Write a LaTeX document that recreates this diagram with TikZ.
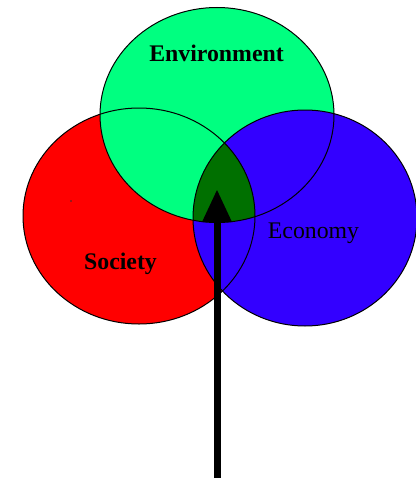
\documentclass[tikz,border=0pt]{standalone}
\usepackage{fontspec}
\setmainfont{Liberation Serif}
\usepackage{tikz}
\usetikzlibrary{
    arrows.meta
}
\definecolor{envgreen}{RGB}{0,255,128}
\definecolor{socred}{RGB}{255,0,0}
\definecolor{ecoblue}{RGB}{51,0,255}
\definecolor{coregreen}{RGB}{0,112,0}
\newcommand{\envshape}{(217,115) ellipse [x radius=117, y radius=107.5]}
\newcommand{\socshape}{(139,216) ellipse [x radius=116, y radius=108]}
\newcommand{\ecoshape}{(305,218) ellipse [x radius=112, y radius=108]}

\begin{document}
\begin{tikzpicture}[x=0.75pt,y=-0.75pt,>=Triangle]
    \tikzstyle{setname}=[anchor=base, inner sep=0pt, font=\fontsize{17.85}{20}\selectfont]
    \tikzstyle{rim}=[draw=black, line width=0.75pt]
    \useasboundingbox (0,0) rectangle (415,478);

	\fill [socred] \socshape;
	\fill [envgreen] \envshape;
	\fill [ecoblue] \ecoshape;
	\begin{scope}
	\clip \socshape;
	\clip \envshape;
	\fill [coregreen] \ecoshape;
	\end{scope}
	\draw [rim] \socshape;
	\draw [rim] \envshape;
	\draw [rim] \ecoshape;
	\fill [black!80] (71,201) circle [radius=0.9];

	\node [setname] (envtext) at (216.5, 62) {\textbf{Environment}};
	\node [setname] (soctext) at (120.5, 269) {\textbf{Society}};
	\node [setname] (ecotext) at (313.5, 238) {Economy};

	\coordinate (base) at (217, 478);
	\coordinate (core) at (217, 190);
	\draw [->, >={Triangle[width=22.5pt, length=24pt, line width=0pt]}, line width=5.25pt] (base) -- (core);
\end{tikzpicture}
\end{document}
